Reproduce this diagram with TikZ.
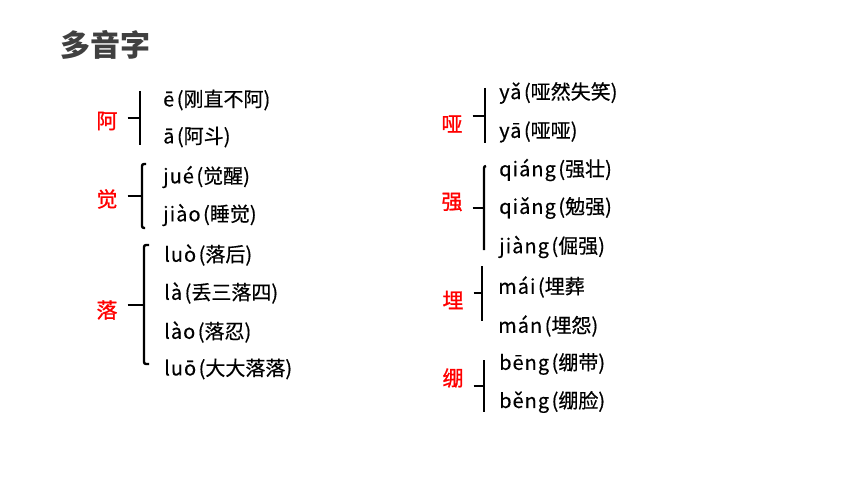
\documentclass[tikz,border=0pt]{standalone}
\usepackage{fontspec}
\newfontfamily\cjk{Noto Sans CJK SC}
\newfontfamily\cjkm{Noto Sans CJK SC}[FakeBold=0.4]
\newfontfamily\cjkh{Noto Sans CJK SC}[FakeBold=1.0]
\newfontfamily\pyfont{Noto Sans CJK SC}[FakeBold=0.4, LetterSpace=5]
\definecolor{titlegray}{HTML}{404040}
\definecolor{charred}{HTML}{FF0000}
\newcommand{\py}[2]{{\pyfont #1}\hspace{2.5pt}(#2}
\begin{document}
\begin{tikzpicture}[x=1pt,y=-1pt,
  heading/.style={font=\cjk\bfseries\fontsize{30}{30}\selectfont, text=titlegray, anchor=west, inner sep=0pt},
  head/.style={font=\cjkh\fontsize{21}{21}\selectfont, text=charred, inner sep=0pt},
  item/.style={font=\cjkm\fontsize{20}{20}\selectfont, anchor=west, inner sep=0pt},
  brk/.style={line width=2.4pt, black},
  hook/.style={line width=2.4pt, black, rounded corners=2pt}]
\useasboundingbox (0,0) rectangle (860,484);
\fill[white] (0,0) rectangle (860,484);

\node[heading] (title) at (60,45) {多音字};

% 阿
\node[head] (a) at (107,121) {阿};
\node[item] (a1) at (163,100) {\py{ē}{刚直不阿)}};
\node[item] (a2) at (163,137) {\py{ā}{阿斗)}};
\coordinate (aT) at (140,91);
\coordinate (aB) at (140,145);
\coordinate (aM) at (140,118);
\draw[brk] (aT) -- (aB);
\draw[brk] ([xshift=10pt]a.east |- aM) -- (aM);

% 觉
\node[head] (j) at (107,199) {觉};
\node[item] (j1) at (163,177) {\py{jué}{觉醒)}};
\node[item] (j2) at (163,215) {\py{jiào}{睡觉)}};
\coordinate (jT) at (142,164);
\coordinate (jB) at (142,228);
\coordinate (jM) at (142,196);
\draw[hook] ([xshift=4pt]jT) -- (jT) -- (jB) -- ([xshift=3pt]jB);
\draw[brk] ([xshift=10pt]j.east |- jM) -- (jM);

% 落
\node[head] (l) at (107,310) {落};
\node[item] (l1) at (164,255) {\py{luò}{落后)}};
\node[item] (l2) at (164,293) {\py{là}{丢三落四)}};
\node[item] (l3) at (164,332) {\py{lào}{落忍)}};
\node[item] (l4) at (164,369) {\py{luō}{大大落落)}};
\coordinate (lT) at (144,245);
\coordinate (lB) at (144,364);
\coordinate (lM) at (144,305);
\draw[hook] ([xshift=5pt]lT) -- (lT) -- (lB) -- ([xshift=5pt]lB);
\draw[brk] ([xshift=10pt]l.east |- lM) -- (lM);

% 哑
\node[head] (y) at (452,124) {哑};
\node[item] (y1) at (499,93) {\py{yǎ}{哑然失笑)}};
\node[item] (y2) at (499,132) {\py{yā}{哑哑)}};
\coordinate (yT) at (485,88);
\coordinate (yB) at (485,143);
\coordinate (yM) at (485,116);
\draw[brk] (yT) -- (yB);
\draw[brk] ([xshift=10pt]y.east |- yM) -- (yM);

% 强
\node[head] (q) at (452,202) {强};
\node[item] (q1) at (499,170) {\py{qiáng}{强壮)}};
\node[item] (q2) at (499,208) {\py{qiǎng}{勉强)}};
\node[item] (q3) at (499,247) {\py{jiàng}{倔强)}};
\coordinate (qT) at (484,166);
\coordinate (qB) at (484,250);
\coordinate (qM) at (484,208);
\draw[hook] ([xshift=2pt]qT) -- (qT) -- (qB);
\draw[brk] ([xshift=10pt]q.east |- qM) -- (qM);

% 埋
\node[head] (m) at (453,300) {埋};
\node[item] (m1) at (498,287) {\py{mái}{埋葬}};
\node[item] (m2) at (498,326) {\py{mán}{埋怨)}};
\coordinate (mT) at (482,266);
\coordinate (mB) at (482,321);
\coordinate (mM) at (482,293);
\draw[brk] (mT) -- (mB);
\draw[brk] ([xshift=10pt]m.east |- mM) -- (mM);

% 绷
\node[head] (b) at (453,378) {绷};
\node[item] (b1) at (499,364) {\py{bēng}{绷带)}};
\node[item] (b2) at (499,402) {\py{běng}{绷脸)}};
\coordinate (bT) at (484,360);
\coordinate (bB) at (484,412);
\coordinate (bM) at (484,386);
\draw[brk] (bT) -- (bB);
\draw[brk] ([xshift=10pt]b.east |- bM) -- (bM);
\end{tikzpicture}
\end{document}
